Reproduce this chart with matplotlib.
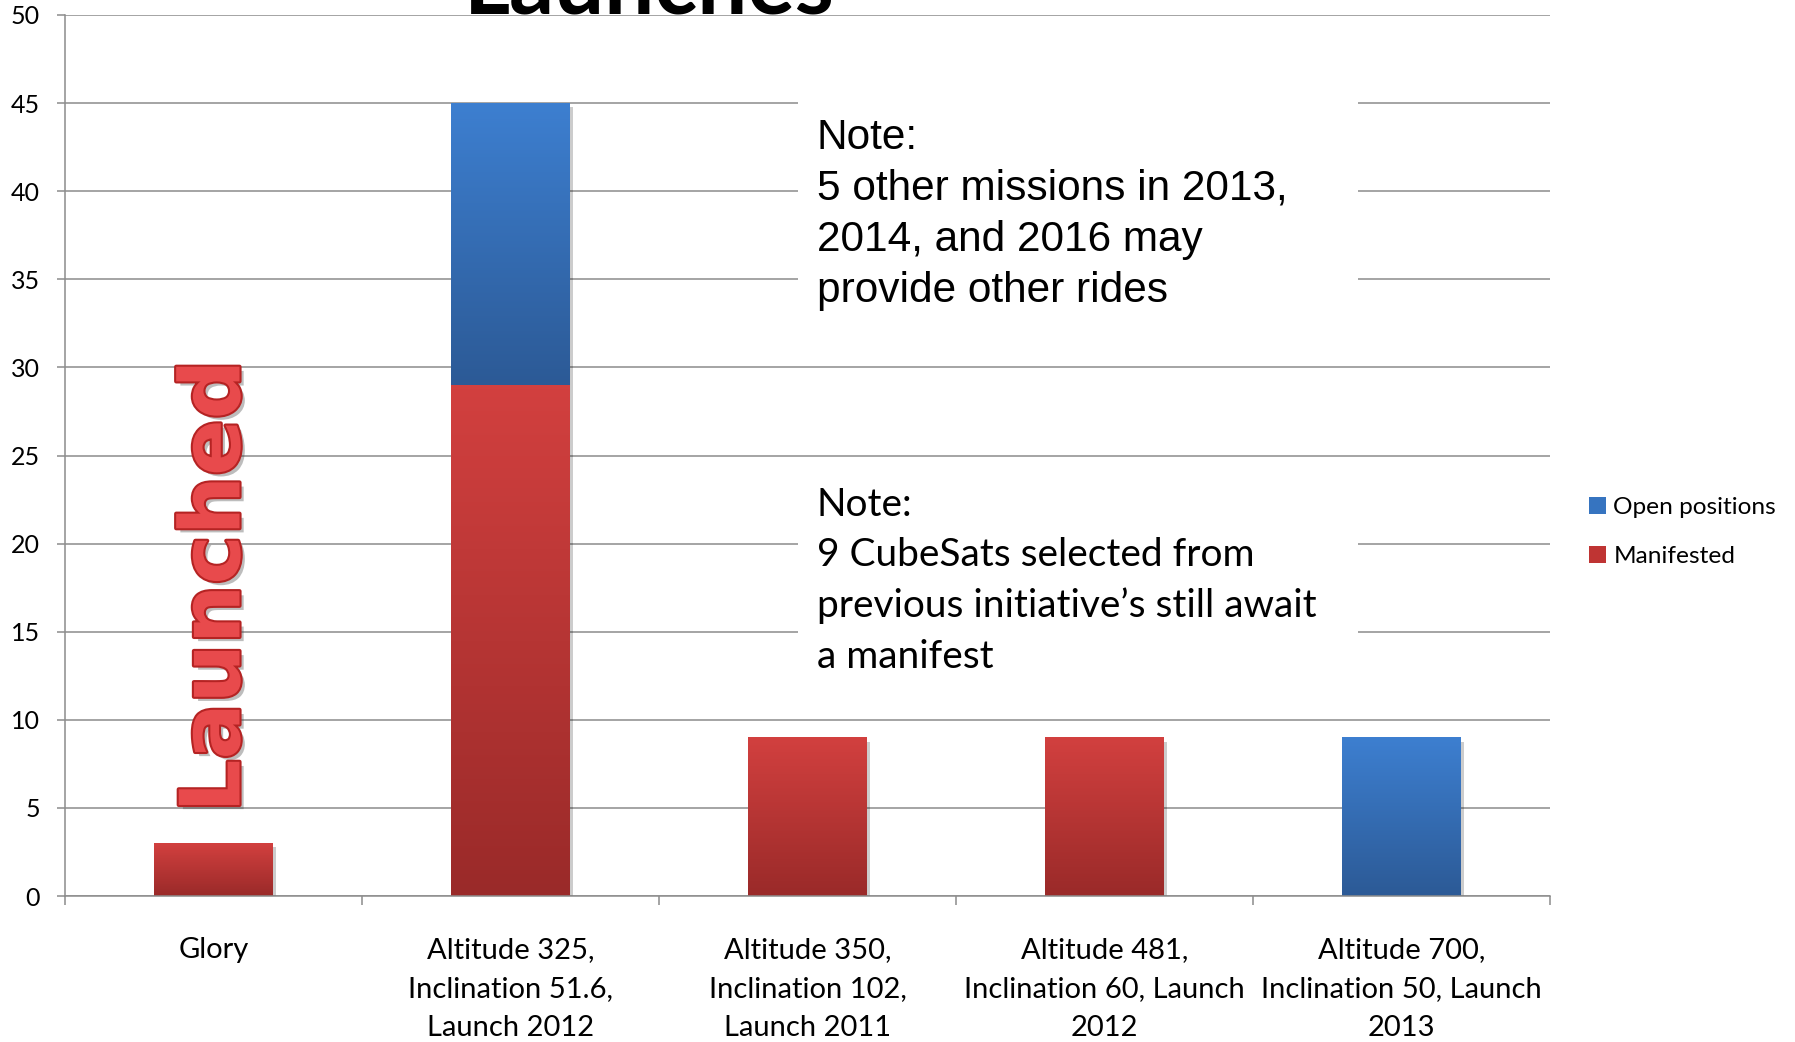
import numpy as np
import matplotlib
matplotlib.use('Agg')
import matplotlib.pyplot as plt
from matplotlib.colors import LinearSegmentedColormap
from matplotlib.patches import Rectangle, Patch
import matplotlib.patheffects as pe

# ---------------- data ----------------
categories = ["Glory",
              "Altitude 325,\nInclination 51.6,\nLaunch 2012",
              "Altitude 350,\nInclination 102,\nLaunch 2011",
              "Altitude 481,\nInclination 60, Launch\n2012",
              "Altitude 700,\nInclination 50, Launch\n2013"]
manifested = [3, 29, 9, 9, 0]
open_positions = [0, 16, 0, 0, 9]
y_ticks = list(range(0, 51, 5))
series_names = ["Open positions", "Manifested"]
title = "Launches"
note1 = "Note:\n5 other missions in 2013,\n2014, and 2016 may\nprovide other rides"
note2 = "Note:\n9 CubeSats selected from\nprevious initiative\u2019s still await\na manifest"
stamp = "Launched"

# ---------------- style ----------------
RED_TOP, RED_BOT = '#D2403F', '#9A2A29'
BLUE_TOP, BLUE_BOT = '#3D7FD0', '#2C5A96'
GRID = '#8c8c8c'
CAL = 'Lato'

W, H = 1795, 1042
fig = plt.figure(figsize=(W / 100, H / 100), dpi=100)
ax = fig.add_axes([65 / W, 1 - 896 / H, (1550 - 65) / W, (896 - 15) / H])

x = np.arange(len(categories))
bw = 0.4
shadow = [pe.SimplePatchShadow(offset=(2, -3), shadow_rgbFace='k', alpha=0.2), pe.Normal()]
b_man = ax.bar(x, manifested, bw, color=RED_TOP, edgecolor='none', zorder=2)
b_open = ax.bar(x, open_positions, bw, bottom=manifested, color=BLUE_TOP,
                edgecolor='none', zorder=2)


def gradient(bars, top, bot):
    cmap = LinearSegmentedColormap.from_list('g', [bot, top])
    for b in bars:
        h = b.get_height()
        if h <= 0:
            b.set_visible(False)
            continue
        b.set_path_effects(shadow)
        x0, w, y0 = b.get_x(), b.get_width(), b.get_y()
        im = ax.imshow(np.linspace(0, 1, 128).reshape(-1, 1), cmap=cmap, origin='lower',
                       extent=[x0, x0 + w, y0, y0 + h], aspect='auto',
                       interpolation='bilinear', zorder=2.1)
        im.set_clip_path(b)


gradient(b_man, RED_TOP, RED_BOT)
gradient(b_open, BLUE_TOP, BLUE_BOT)

ax.set_xlim(-0.5, len(categories) - 0.5)
ax.set_ylim(0, 50)
ax.set_yticks(y_ticks)
ax.set_xticks(x)
ax.set_xticklabels(categories)
ax.set_xticks(np.arange(-0.5, len(categories), 1), minor=True)

ax.yaxis.grid(True, color=GRID, lw=1.1)
ax.set_axisbelow(True)
for s in ['top', 'right']:
    ax.spines[s].set_visible(False)
for s in ['left', 'bottom']:
    ax.spines[s].set_color(GRID)
    ax.spines[s].set_linewidth(1.1)

ax.tick_params(axis='x', which='major', length=0, pad=29.5)
ax.tick_params(axis='x', which='minor', length=6.5, width=1.1, color=GRID)
ax.tick_params(axis='y', length=6, width=1.1, color=GRID, pad=12)
for lbl in ax.get_xticklabels():
    lbl.set_fontfamily(CAL)
    lbl.set_fontsize(21)
    lbl.set_linespacing(1.62)
for lbl in ax.get_yticklabels():
    lbl.set_fontfamily(CAL)
    lbl.set_fontsize(18)

# white boxes behind notes
for (x0, y0, x1, y1) in [(798, 78, 1358, 333), (798, 472, 1358, 698)]:
    ax.add_patch(Rectangle((x0 / W, 1 - y1 / H), (x1 - x0) / W, (y1 - y0) / H,
                           transform=fig.transFigure, facecolor='white',
                           edgecolor='none', zorder=1, clip_on=False))

fig.text(817 / W, 1 - 118 / H, note1, ha='left', va='top', fontsize=30.5,
         family='Liberation Sans', linespacing=1.35, zorder=5)
fig.text(817 / W, 1 - 487 / H, note2, ha='left', va='top', fontsize=28,
         family=CAL, linespacing=1.49, zorder=5)

# title (cut off at the top)
fig.text(649 / W, 1 - 13 / H, title, ha='center', va='baseline', fontsize=64,
         fontweight='bold', family=CAL)

# Launched stamp
fig.text(216 / W, 1 - 586 / H, stamp, rotation=90, ha='center', va='center',
         fontsize=60, fontweight='bold', family='DejaVu Sans', color='#E84A4C',
         zorder=6,
         path_effects=[pe.SimplePatchShadow(offset=(3, -3), shadow_rgbFace='#444', alpha=0.35),
                       pe.Stroke(linewidth=3, foreground='#B52323'), pe.Normal()])

# legend
handles = [Patch(facecolor='#3674C0', edgecolor='none'),
           Patch(facecolor='#BF3433', edgecolor='none')]
leg = ax.legend(handles, series_names, loc='center left',
                bbox_to_anchor=(1589 / W, 1 - 532 / H), bbox_transform=fig.transFigure,
                frameon=False, handlelength=0.7, handleheight=0.7, handletextpad=0.3,
                labelspacing=1.15, borderpad=0, borderaxespad=0,
                prop={'family': CAL, 'size': 17.6})

fig.savefig('out.png', dpi=100)
